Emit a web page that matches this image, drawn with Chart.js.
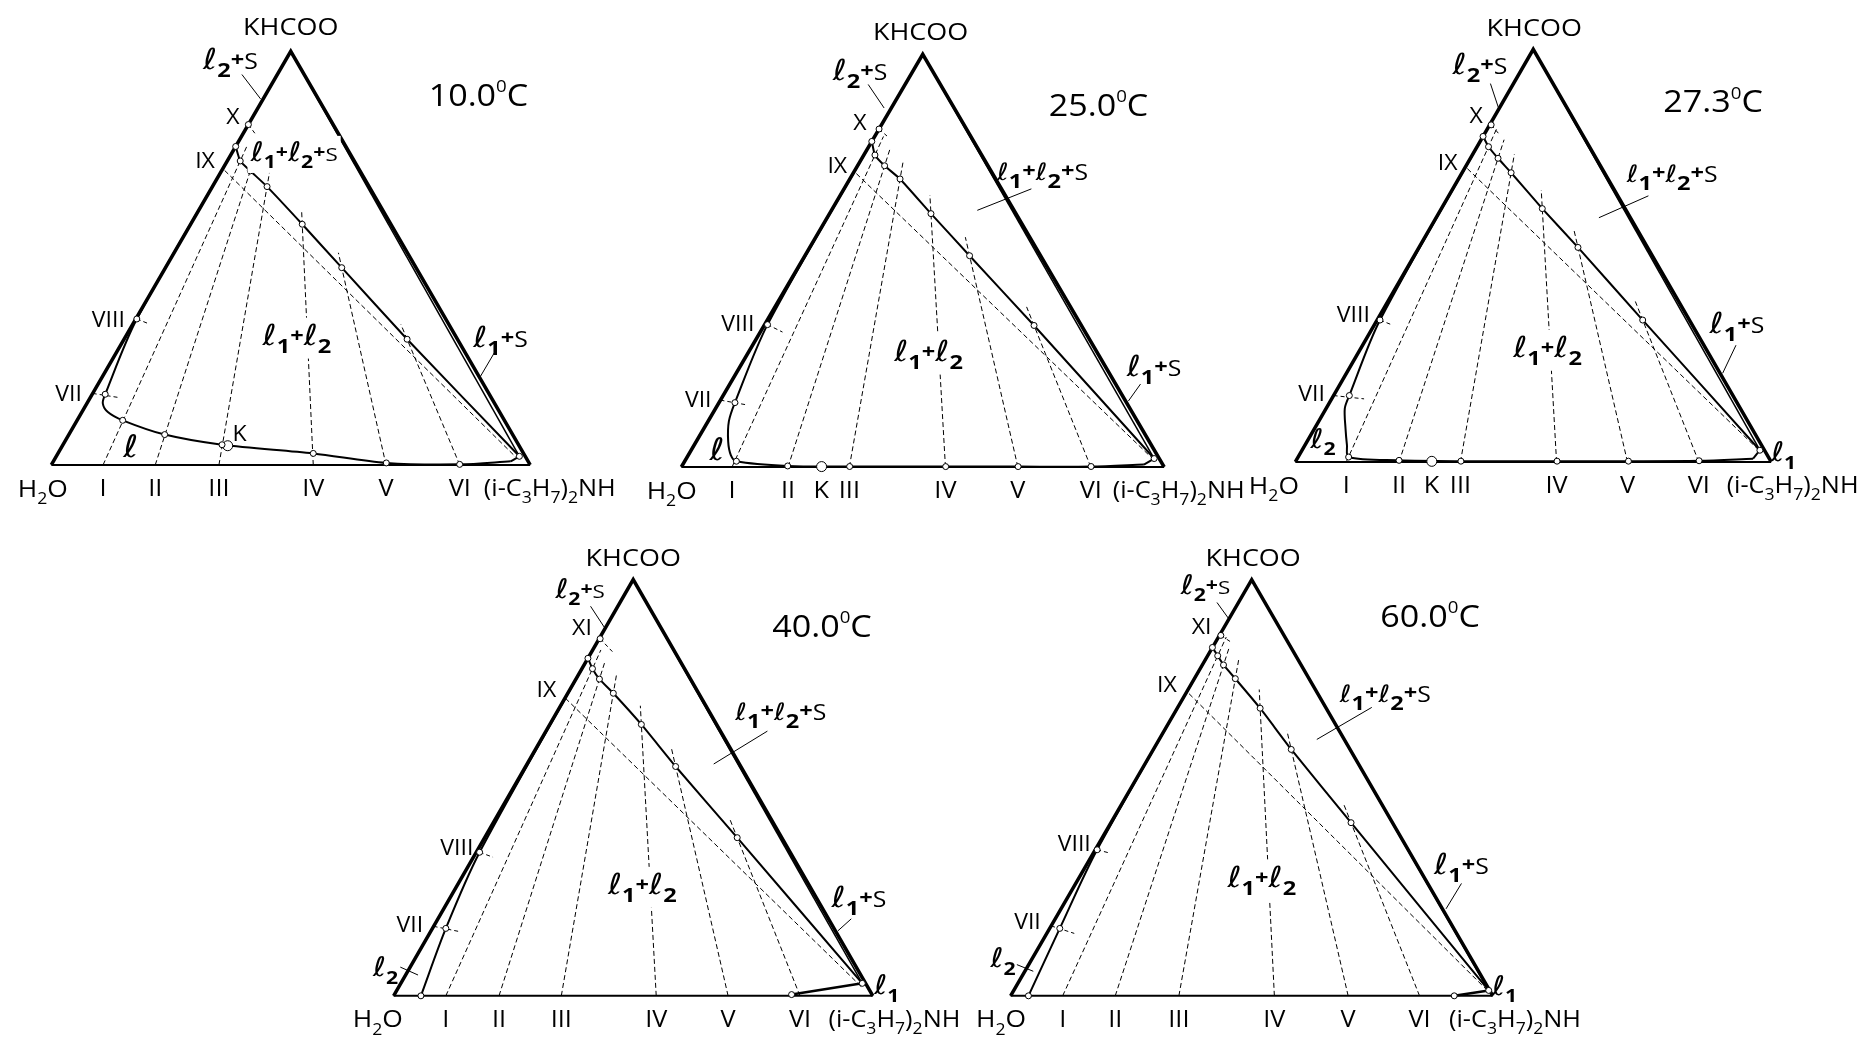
<!DOCTYPE html>
<html lang="en">
<head>
  <meta charset="UTF-8" />
  <title>KHCOO – (i-C3H7)2NH – H2O</title>
  <script src="https://cdn.jsdelivr.net/npm/chart.js"></script>
  <style>
    body { margin: 0; background: #fff; }
    #sheet { position: relative; width: 1872px; height: 1040px; overflow: hidden; background: #fff; }
    #sheet canvas { position: absolute; }
  </style>
</head>
<body>
  <div id="sheet"></div>

  <script>
    // compositions are [wt% (i-C3H7)2NH, wt% KHCOO], the rest is water
    var tieNames = ['I', 'II', 'III', 'IV', 'V', 'VI'];

    // 10.0 C
    var upper10 = [[0, 77.0], [2.7, 73.5], [6.0, 71.1], [11.4, 67.3], [23.3, 58.2], [36.8, 47.7], [59.1, 30.4], [96.7, 2.1]];
    var lower10 = [[0, 77.0], [0.2, 35.3], [2.7, 17.1], [3.3, 14.9], [5.4, 12.8], [9.5, 10.8], [20.0, 7.35], [33.2, 4.9], [53.3, 2.8], [69.7, 0.5], [85.2, 0.15], [95.5, 0.9], [96.7, 2.1]];
    var foot10 = [10.8, 21.7, 35.0, 54.7, 69.9, 85.3];
    var lowPts10 = [[9.5, 10.8], [20.0, 7.35], [33.2, 4.9], [53.3, 2.8], [69.7, 0.5], [85.2, 0.15]];
    var edgePts10 = [[0, 82.3], [0, 77.0], [0.2, 35.3], [2.7, 17.1], [96.7, 2.1]];
    var crit10 = [34.5, 4.66];
    var ix10 = [[0.6, 71.2], [96.2, 1.8]];
    var ticks10 = [[[0, 17.3], [6.0, 16.3]], [[0.2, 35.3], [3.4, 34.1]], [[0, 82.3], [2.4, 80.2]]];

    // 25.0 C
    var upper25 = [[0, 78.9], [2.3, 75.6], [5.6, 73.0], [10.4, 69.8], [21.0, 61.4], [34.1, 51.2], [55.9, 34.3], [96.9, 2.05]];
    var lower25 = [[0, 78.9], [0.6, 34.5], [3.3, 15.6], [4.3, 11.1], [6.6, 6.2], [8.8, 2.9], [10.7, 1.4], [21.9, 0.25], [34.8, 0.12], [54.7, 0.1], [69.7, 0.1], [84.8, 0.12], [95.5, 0.6], [96.9, 2.05]];
    var foot25 = [10.5, 22.1, 34.8, 54.7, 69.7, 84.8];
    var lowPts25 = [[10.7, 1.4], [21.9, 0.25], [34.8, 0.12], [54.7, 0.1], [69.7, 0.1], [84.8, 0.12]];
    var edgePts25 = [[0, 81.9], [0, 78.9], [0.6, 34.5], [3.3, 15.6], [96.9, 2.05]];
    var crit25 = [29.0, 0.1];
    var ix25 = [[0.7, 71.1], [96.2, 2.3]];
    var ticks25 = [[[0, 16.2], [6.3, 15.0]], [[0.6, 34.5], [4.6, 32.7]], [[0, 81.9], [2.5, 80.2]]];

    // 27.3 C
    var upper27 = [[0, 78.9], [2.4, 76.4], [5.8, 73.6], [10.3, 70.1], [21.2, 61.4], [33.4, 52.0], [55.8, 34.4], [96.2, 2.85]];
    var lower27 = [[0, 78.9], [0.6, 34.4], [3.3, 16.1], [3.9, 13.0], [6.5, 8.1], [8.8, 4.1], [10.6, 1.2], [21.6, 0.4], [34.7, 0.2], [54.9, 0.2], [69.9, 0.2], [84.7, 0.3], [95.8, 0.8], [96.2, 2.85]];
    var foot27 = [10.7, 21.8, 34.7, 54.9, 69.8, 84.8];
    var lowPts27 = [[10.6, 1.2], [21.6, 0.4], [34.7, 0.2], [54.9, 0.2], [69.9, 0.2], [84.7, 0.3]];
    var edgePts27 = [[0.3, 81.7], [0, 78.9], [0.6, 34.4], [3.3, 16.1], [96.2, 2.85]];
    var crit27 = [28.6, 0.16];
    var ix27 = [[0.6, 71.1], [96.5, 2.5]];
    var ticks27 = [[[0, 16.1], [6.8, 15.3]], [[0.6, 34.4], [3.5, 33.3]], [[0.3, 81.7], [3.3, 79.3]]];

    // 40.0 C
    var upper40 = [[0, 81.1], [2.2, 78.6], [4.9, 76.1], [9.5, 72.7], [19.1, 65.2], [31.3, 55.1], [52.7, 38.0], [96.3, 3.0]];
    var lower40 = [[0, 81.1], [0.7, 34.5], [2.8, 16.2], [5.7, 0]];
    var rich40 = [[82.9, 0.3], [96.3, 3.0]];
    var foot40 = [10.9, 22.0, 35.0, 54.8, 69.8, 84.8];
    var edgePts40 = [[0.2, 85.8], [0, 81.1], [0.7, 34.5], [2.8, 16.2], [5.7, 0], [82.9, 0.3], [96.3, 3.0]];
    var ix40 = [[0.1, 71.5], [96.5, 2.2]];
    var ticks40 = [[[0, 16.7], [6.2, 15.4]], [[0.7, 34.5], [4.1, 33.3]], [[0.2, 85.8], [4.3, 82.7]]];

    // 60.0 C
    var upper60 = [[0, 83.7], [2.1, 81.7], [4.4, 79.5], [8.5, 76.2], [17.2, 69.1], [28.6, 59.2], [49.8, 41.6], [98.5, 1.3]];
    var lower60 = [[0, 83.7], [0.4, 35.1], [2.1, 16.2], [3.7, 0]];
    var rich60 = [[92.0, 0], [98.5, 1.3]];
    var foot60 = [10.8, 21.7, 34.9, 54.7, 70.0, 84.8];
    var edgePts60 = [[0.3, 86.6], [0, 83.7], [0.4, 35.1], [2.1, 16.2], [3.7, 0], [92.0, 0], [98.5, 1.3]];
    var ix60 = [[0.7, 72.6], [97.8, 1.6]];
    var ticks60 = [[[0, 16.8], [5.7, 15.0]], [[0.4, 35.1], [3.4, 34.3]], [[0.3, 86.6], [3.2, 85.0]]];

    // where each triangle sits on the page: water corner, base length, height (px)
    // labels: [text, x, y, size, flags]  (x, y in triangle units)
    var panels = [
      { h2o: [47, 470], w: 487, h: 423, upper: upper10, lower: lower10, foot: foot10, lowPts: lowPts10, edge: edgePts10, crit: crit10, ix: ix10, ticks: ticks10, overrun: 0.036,
        labels: [['KHCOO', 0.500, 1.062, 24.5], ['ℓ_2+S', 0.374, 0.975, 21], ['X', 0.379, 0.843, 21], ['IX', 0.321, 0.737, 21],
                 ['ℓ_1+ℓ_2+S', 0.507, 0.752, 19, 'bg'], ['10.0^0C', 0.892, 0.896, 31], ['VIII', 0.119, 0.353, 21], ['ℓ_1+ℓ_2', 0.513, 0.308, 21, 'bg'],
                 ['ℓ_1+S', 0.938, 0.304, 21], ['VII', 0.036, 0.173, 21], ['ℓ', 0.166, 0.038, 22], ['K', 0.393, 0.077, 21]],
        leaders: [[0.398, 0.944, 0.437, 0.885], [0.925, 0.271, 0.896, 0.214]], bottomK: null, h2oX: -0.018, amineX: 1.041 },
      { h2o: [677, 472], w: 491, h: 422, upper: upper25, lower: lower25, foot: foot25, lowPts: lowPts25, edge: edgePts25, crit: crit25, ix: ix25, ticks: ticks25, overrun: 0.045,
        labels: [['KHCOO', 0.4955, 1.056, 24.5], ['ℓ_2+S', 0.370, 0.956, 21], ['X', 0.370, 0.834, 21], ['IX', 0.323, 0.731, 21],
                 ['25.0^0C', 0.864, 0.877, 31], ['ℓ_1+ℓ_2+S', 0.748, 0.713, 21, 'flat'], ['VIII', 0.117, 0.348, 21], ['ℓ_1+ℓ_2', 0.512, 0.275, 21, 'bg'],
                 ['ℓ_1+S', 0.979, 0.238, 21], ['VII', 0.035, 0.164, 21], ['ℓ', 0.074, 0.037, 22]],
        leaders: [[0.387, 0.927, 0.420, 0.870], [0.725, 0.674, 0.613, 0.622], [0.951, 0.201, 0.926, 0.160]], bottomK: 0.29, h2oX: -0.02, amineX: 1.03 },
      { h2o: [1291, 467], w: 484, h: 422, upper: upper27, lower: lower27, foot: foot27, lowPts: lowPts27, edge: edgePts27, crit: crit27, ix: ix27, ticks: ticks27, overrun: 0.045,
        labels: [['KHCOO', 0.502, 1.054, 24.5], ['ℓ_2+S', 0.388, 0.958, 21], ['X', 0.380, 0.840, 21], ['IX', 0.320, 0.727, 21],
                 ['27.3^0C', 0.878, 0.874, 31], ['ℓ_1+ℓ_2+S', 0.792, 0.697, 21, 'flat'], ['VIII', 0.122, 0.358, 21], ['ℓ_1+ℓ_2', 0.530, 0.272, 21, 'bg'],
                 ['ℓ_1+S', 0.928, 0.330, 21], ['VII', 0.034, 0.167, 21], ['ℓ_2', 0.058, 0.050, 19], ['ℓ_1', 1.026, 0.018, 19]],
        leaders: [[0.410, 0.917, 0.427, 0.858], [0.742, 0.645, 0.638, 0.592], [0.926, 0.283, 0.898, 0.215]], bottomK: 0.286, h2oX: -0.045, amineX: 1.045 },
      { h2o: [390, 1000], w: 486, h: 424, upper: upper40, lower: lower40, rich: rich40, foot: foot40, lowPts: [], edge: edgePts40, crit: null, ix: ix40, ticks: ticks40, overrun: 0.045,
        labels: [['KHCOO', 0.500, 1.054, 24.5], ['ℓ_2+S', 0.389, 0.972, 19], ['XI', 0.393, 0.886, 21], ['IX', 0.319, 0.735, 21],
                 ['40.0^0C', 0.894, 0.888, 31], ['ℓ_1+ℓ_2+S', 0.808, 0.680, 21, 'flat'], ['VIII', 0.132, 0.357, 21], ['ℓ_1+ℓ_2', 0.519, 0.262, 21, 'bg'],
                 ['ℓ_1+S', 0.971, 0.232, 21], ['VII', 0.034, 0.172, 21], ['ℓ_2', -0.017, 0.063, 19], ['ℓ_1', 1.029, 0.020, 19]],
        leaders: [[0.411, 0.936, 0.440, 0.885], [0.780, 0.636, 0.668, 0.557], [0.955, 0.185, 0.927, 0.156], [0.014, 0.069, 0.051, 0.050]], bottomK: null, h2oX: -0.033, amineX: 1.045 },
      { h2o: [1007, 1000], w: 489, h: 424, upper: upper60, lower: lower60, rich: rich60, foot: foot60, lowPts: [], edge: edgePts60, crit: null, ix: ix60, ticks: ticks60, overrun: 0.045,
        labels: [['KHCOO', 0.503, 1.054, 24.5], ['ℓ_2+S', 0.404, 0.982, 19], ['XI', 0.396, 0.888, 21], ['IX', 0.324, 0.748, 21],
                 ['60.0^0C', 0.870, 0.914, 31], ['ℓ_1+ℓ_2+S', 0.777, 0.724, 21, 'flat'], ['VIII', 0.132, 0.367, 21], ['ℓ_1+ℓ_2', 0.521, 0.280, 21, 'bg'],
                 ['ℓ_1+S', 0.935, 0.312, 21], ['VII', 0.035, 0.178, 21], ['ℓ_2', -0.016, 0.085, 19], ['ℓ_1', 1.024, 0.018, 19]],
        leaders: [[0.428, 0.945, 0.453, 0.905], [0.749, 0.693, 0.635, 0.616], [0.935, 0.270, 0.903, 0.209], [0.013, 0.075, 0.047, 0.059]], bottomK: null, h2oX: -0.02, amineX: 1.046 }
    ];

    var FONT = '"Open Sans", "Liberation Sans", sans-serif';
    var ELL_FONT = '"DejaVu Serif", "DejaVu Sans", serif';

    // ternary -> cartesian (base 0..1, apex at y = 1)
    function tern(p) {
      return { x: (p[0] + p[1] / 2) / 100, y: p[1] / 100 };
    }

    function line(xy, width, dash, tension) {
      return {
        data: xy, showLine: true, fill: false, borderColor: '#000', borderWidth: width,
        borderDash: dash || [], pointRadius: 0, tension: tension || 0, order: 2
      };
    }

    function dots(pts, r) {
      return {
        data: pts.map(tern), showLine: false, pointRadius: r, pointBackgroundColor: '#fff',
        pointBorderColor: '#000', pointBorderWidth: 1, order: 0
      };
    }

    // tiny markup: _x subscript, ^x superscript, ℓ script letter
    function pieces(text, size, phase, ellScale) {
      var out = [];
      for (var i = 0; i < text.length; i++) {
        var ch = text[i];
        if (ch === '_') {
          i++;
          if (phase) out.push({ t: text[i], font: 'bold ' + Math.round(size * 0.95) + 'px ' + FONT, dy: size * 0.38 });
          else out.push({ t: text[i], font: Math.round(size * 0.68) + 'px ' + FONT, dy: size * 0.3 });
        } else if (ch === '^') {
          i++;
          out.push({ t: text[i], font: Math.round(size * 0.55) + 'px ' + FONT, dy: -size * 0.45 });
        } else if (ch === 'ℓ') {
          out.push({ t: ch, font: 'italic ' + Math.round(size * ellScale) + 'px ' + ELL_FONT, dy: 0 });
        } else if (ch === '+' && phase) {
          out.push({ t: ch, font: 'bold ' + Math.round(size * 0.95) + 'px ' + FONT, dy: -size * 0.14 });
        } else {
          out.push({ t: ch, font: size + 'px ' + FONT, dy: 0 });
        }
      }
      return out;
    }

    function drawRich(ctx, text, x, y, size, flags) {
      flags = flags || '';
      var phase = text.indexOf('ℓ') >= 0;
      var ps = pieces(text, size, phase, flags.indexOf('flat') >= 0 ? 1.12 : 1.4);
      var stretch = phase ? 1.18 : 1.1;
      var w = 0;
      ps.forEach(function(p) { ctx.font = p.font; p.w = ctx.measureText(p.t).width; w += p.w; });
      var total = w * stretch;
      var x0 = x - total / 2;
      if (flags.indexOf('bg') >= 0) {
        ctx.fillStyle = '#fff';
        ctx.fillRect(x0 - 3, y - size * 0.95, total + 6, size * 1.95);
      }
      ctx.fillStyle = '#000';
      ctx.textBaseline = 'alphabetic';
      ctx.textAlign = 'left';
      ctx.save();
      ctx.translate(x0, y + size * 0.36);
      ctx.scale(stretch, 1);
      var cx = 0;
      ps.forEach(function(p) { ctx.font = p.font; ctx.fillText(p.t, cx, p.dy); cx += p.w; });
      ctx.restore();
    }

    function labelPlugin(pan) {
      return {
        id: 'ternLabels',
        afterDatasetsDraw: function(chart) {
          var ctx = chart.ctx, sx = chart.scales.x, sy = chart.scales.y;
          ctx.save();
          ctx.strokeStyle = '#000';
          ctx.lineWidth = 1;
          pan.leaders.forEach(function(l) {
            ctx.beginPath();
            ctx.moveTo(sx.getPixelForValue(l[0]), sy.getPixelForValue(l[1]));
            ctx.lineTo(sx.getPixelForValue(l[2]), sy.getPixelForValue(l[3]));
            ctx.stroke();
          });
          pan.labels.forEach(function(l) {
            drawRich(ctx, l[0], sx.getPixelForValue(l[1]), sy.getPixelForValue(l[2]), l[3], l[4]);
          });
          var yb = sy.getPixelForValue(0) + 23;
          drawRich(ctx, 'H_2O', sx.getPixelForValue(pan.h2oX), yb, 24);
          drawRich(ctx, '(i-C_3H_7)_2NH', sx.getPixelForValue(pan.amineX), yb, 23);
          pan.foot.forEach(function(a, i) {
            drawRich(ctx, tieNames[i], sx.getPixelForValue(a / 100), yb, 23);
          });
          if (pan.bottomK !== null) drawRich(ctx, 'K', sx.getPixelForValue(pan.bottomK), yb, 23);
          ctx.restore();
        }
      };
    }

    var sheet = document.getElementById('sheet');

    panels.forEach(function(pan) {
      var padL = 100, padR = 130, padT = 75, padB = 45;
      var cv = document.createElement('canvas');
      cv.width = pan.w + padL + padR;
      cv.height = pan.h + padT + padB;
      cv.style.left = (pan.h2o[0] - padL) + 'px';
      cv.style.top = (pan.h2o[1] - pan.h - padT) + 'px';
      sheet.appendChild(cv);

      var sets = [];
      // triangle
      sets.push(line([[100, 0], [0, 100], [0, 0]].map(tern), 3.5));
      sets.push(line([[0, 0], [100, 0]].map(tern), 2));
      // binodal: smooth body, straight last step into l1
      var n = pan.lower.length;
      if (pan.rich) {
        sets.push(line(pan.lower.map(tern), 2, null, 0.3));
        sets.push(line(pan.rich.map(tern), 2.5));
      } else {
        sets.push(line(pan.lower.slice(0, n - 1).map(tern), 2, null, 0.3));
        sets.push(line(pan.lower.slice(n - 2).map(tern), 2));
      }
      sets.push(line(pan.upper.map(tern), 2, null, 0.15));
      sets.push(line([[0, 100], pan.upper[pan.upper.length - 1]].map(tern), 1.5));
      // tie lines from the base up through the upper curve
      pan.foot.forEach(function(a, i) {
        var f = tern([a, 0]), t = tern(pan.upper[i + 1]);
        var k = pan.overrun / (t.y - f.y);
        var e = { x: t.x + (t.x - f.x) * k, y: t.y + (t.y - f.y) * k };
        sets.push(line([f, e], 1, [5, 3]));
      });
      sets.push(line(pan.ix.map(tern), 1, [5, 3]));
      pan.ticks.forEach(function(tk) { sets.push(line(tk.map(tern), 1, [4, 3])); });
      // marked points
      sets.push(dots(pan.upper.slice(1, 7).concat(pan.lowPts, pan.edge), 3));
      if (pan.crit) sets.push(dots([pan.crit], 5));

      new Chart(cv, {
        type: 'scatter',
        data: { datasets: sets },
        options: {
          responsive: false,
          animation: false,
          events: [],
          layout: { padding: 0 },
          plugins: { legend: { display: false }, tooltip: { enabled: false } },
          scales: {
            x: { type: 'linear', display: false, min: -padL / pan.w, max: (pan.w + padR) / pan.w },
            y: { type: 'linear', display: false, min: -padB / pan.h, max: (pan.h + padT) / pan.h }
          }
        },
        plugins: [labelPlugin(pan)]
      });
    });
  </script>
</body>
</html>
